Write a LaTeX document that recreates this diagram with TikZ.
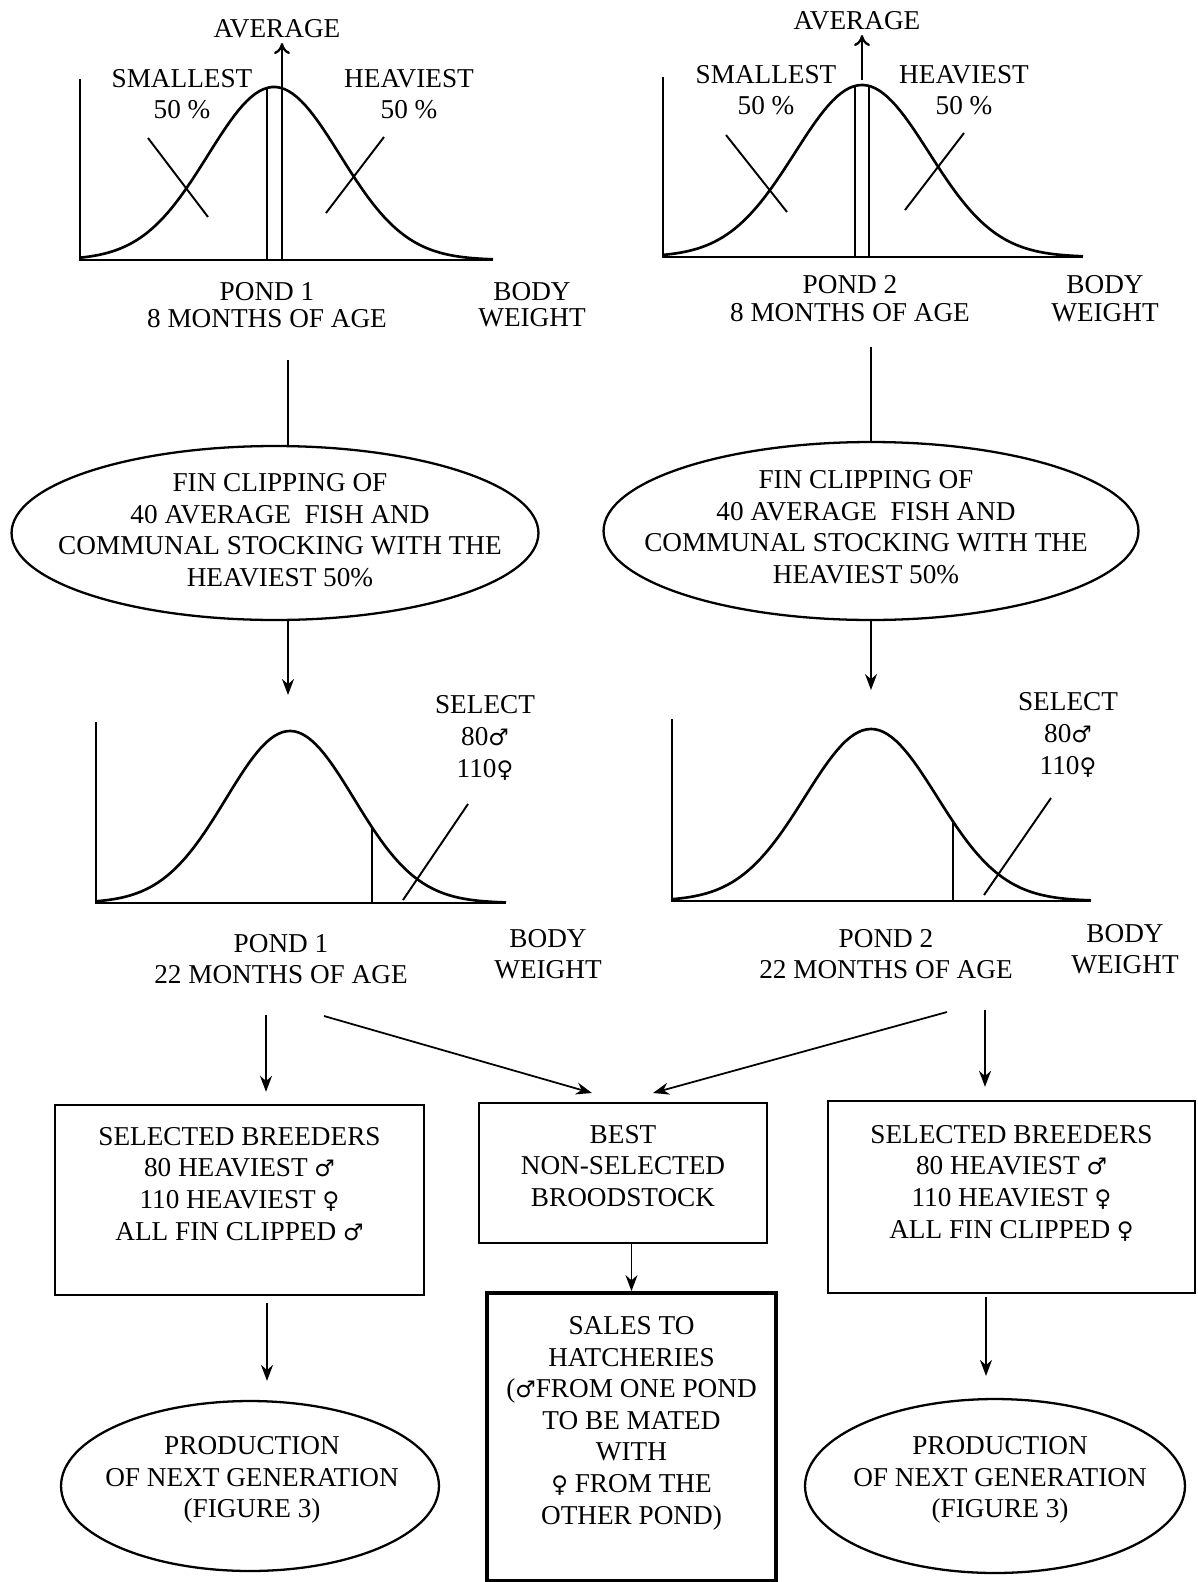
\documentclass[tikz,border=0pt]{standalone}
\usepackage{fontspec}
\setmainfont{Liberation Serif}
\newfontfamily\gsym{DejaVu Sans}
\usetikzlibrary{positioning,shapes.geometric,arrows.meta}
\newcommand\malesym{{\gsym\fontsize{13}{13}\selectfont ♂}}
\newcommand\femsym{{\gsym\fontsize{13}{13}\selectfont ♀}}

\begin{document}
\begin{tikzpicture}[x=0.02cm,y=-0.02cm,
      every node/.style={font=\fontsize{15.5}{18}\selectfont,inner sep=0pt,align=center},
      axis/.style={line width=1.6pt},
      curve/.style={line width=1.5pt},
      cut/.style={line width=1.1pt},
      link/.style={line width=1pt},
      arrow/.style={-{Stealth[length=3.2mm,width=2.4mm]},line width=1pt},
      avgarrow/.style={-{To[length=2.2mm,width=3.2mm]},line width=1.3pt},
      oval/.style={draw,ellipse,line width=1.3pt},
      boxx/.style={draw,rectangle,line width=1.4pt}]
  \useasboundingbox (0,0) rectangle (1197,1582);

  % pond 1, 8 months
  \draw[axis] (80,79) -- (80,260) -- (493,260);
  \draw[curve] plot[domain=80:493,samples=100] (\x,{260-173*exp(-0.5*((\x-274)/66)^2)});
  \draw[cut] (267,260) -- (267,88);
  \draw[avgarrow] (282,260) -- (282,43);
  \draw[cut] (148,138) -- (208,217);
  \draw[cut] (384,137) -- (326,213);
  \node (avg1) at (277,29) {AVERAGE};
  \node (small1) at (182,94) {SMALLEST\\50 \%};
  \node (heavy1) at (409,94) {HEAVIEST\\50 \%};
  \node (pond1a) at (267,305) {POND 1\\[-3pt]8 MONTHS OF AGE};
  \node (bw1) at (532,305) {BODY\\[-3pt]WEIGHT};

  % pond 2, 8 months
  \draw[axis] (663,77) -- (663,257) -- (1083,257);
  \draw[curve] plot[domain=663:1083,samples=100] (\x,{257-172*exp(-0.5*((\x-862)/67)^2)});
  \draw[cut] (855,257) -- (855,86);
  \draw[cut] (869,257) -- (869,86);
  \draw[avgarrow] (862,80) -- (862,35);
  \draw[cut] (726,135) -- (787,212);
  \draw[cut] (964,133) -- (905,210);
  \node (avg2) at (857,21) {AVERAGE};
  \node (small2) at (766,90) {SMALLEST\\50 \%};
  \node (heavy2) at (964,90) {HEAVIEST\\50 \%};
  \node (pond2a) at (850,299) {POND 2\\[-2pt]8 MONTHS OF AGE};
  \node (bw2) at (1105,299) {BODY\\[-2pt]WEIGHT};

  % fin clipping
  \node[oval,minimum width=10.54cm,minimum height=3.48cm] (fin1) at (275,533) {};
  \node (fin1txt) at (280,530) {FIN CLIPPING OF\\40 AVERAGE~ FISH AND\\COMMUNAL STOCKING WITH THE\\HEAVIEST 50\%};
  \node[oval,minimum width=10.7cm,minimum height=3.56cm] (fin2) at (871,531) {};
  \node (fin2txt) at (866,527) {FIN CLIPPING OF\\40 AVERAGE~ FISH AND\\COMMUNAL STOCKING WITH THE\\HEAVIEST 50\%};
  \coordinate (top1) at (288,360);
  \coordinate (top2) at (871,347);
  \draw[link] (top1) -- (top1 |- fin1.north);
  \draw[link] (top2) -- (fin2.north);
  \coordinate (mid1) at (288,695);
  \coordinate (mid2) at (871,690);
  \draw[arrow] (mid1 |- fin1.south) -- (mid1);
  \draw[arrow] (fin2.south) -- (mid2);

  % pond 1, 22 months
  \draw[axis] (96,722) -- (96,903) -- (506,903);
  \draw[curve] plot[domain=96:506,samples=100] (\x,{903-172*exp(-0.5*((\x-290)/64)^2)});
  \draw[cut] (372,903) -- (372,827);
  \draw[cut] (468,804) -- (403,900);
  \node (sel1) at (485,738) {SELECT\\80\malesym\\110\femsym};
  \node (pond1b) at (281,959) {POND 1\\22 MONTHS OF AGE};
  \node (bw3) at (548,954) {BODY\\WEIGHT};

  % pond 2, 22 months
  \draw[axis] (672,719) -- (672,901) -- (1091,901);
  \draw[curve] plot[domain=672:1091,samples=100] (\x,{901-172*exp(-0.5*((\x-871)/66)^2)});
  \draw[cut] (953,901) -- (953,821);
  \draw[cut] (1051,798) -- (984,895);
  \node (sel2) at (1068,735) {SELECT\\80\malesym\\110\femsym};
  \node (pond2b) at (886,954) {POND 2\\22 MONTHS OF AGE};
  \node (bw4) at (1125,949) {BODY\\WEIGHT};

  % breeders and broodstock
  \node[boxx,minimum width=7.38cm,minimum height=3.8cm] (sb1) at (239.5,1200) {};
  \node[below=0.46cm of sb1.north] (sb1txt) {SELECTED BREEDERS\\80 HEAVIEST \malesym\\110 HEAVIEST \femsym\\ALL FIN CLIPPED \malesym};
  \node[boxx,minimum width=5.76cm,minimum height=2.8cm] (best) at (623,1173) {};
  \node[below=0.46cm of best.north] (besttxt) {BEST\\NON-SELECTED\\BROODSTOCK};
  \node[boxx,minimum width=7.34cm,minimum height=3.84cm] (sb2) at (1011.5,1197) {};
  \node[below=0.5cm of sb2.north] (sb2txt) {SELECTED BREEDERS\\80 HEAVIEST \malesym\\110 HEAVIEST \femsym\\ALL FIN CLIPPED \femsym};
  \node[boxx,line width=2.2pt,minimum width=5.78cm,minimum height=5.76cm] (sales) at (631.5,1437) {};
  \node[below=0.5cm of sales.north] (salestxt) {SALES TO\\HATCHERIES\\(\malesym FROM ONE POND\\TO BE MATED\\WITH\\\femsym\ FROM THE\\OTHER POND)};
  \node[oval,minimum width=7.56cm,minimum height=3.4cm] (prod1) at (250,1486) {};
  \node (prod1txt) at (252,1480) {PRODUCTION\\OF NEXT GENERATION\\(FIGURE 3)};
  \node[oval,minimum width=7.6cm,minimum height=3.48cm] (prod2) at (995,1486) {};
  \node (prod2txt) at (1000,1480) {PRODUCTION\\OF NEXT GENERATION\\(FIGURE 3)};

  \coordinate (low1) at (266,1015);
  \coordinate (low2) at (985,1010);
  \coordinate (diag1) at (324,1016);
  \coordinate (diag1e) at (592,1093);
  \coordinate (diag2) at (947,1012);
  \coordinate (diag2e) at (653,1093);
  \draw[arrow,shorten >=0.24cm] (low1) -- (low1 |- sb1.north);
  \draw[arrow,shorten >=0.26cm] (low2) -- (low2 |- sb2.north);
  \draw[arrow] (diag1) -- (diag1e);
  \draw[arrow] (diag2) -- (diag2e);
  \draw[arrow] (best.south -| sales.north) -- (sales.north);
  \coordinate (gen1) at (267,1303);
  \coordinate (gen2) at (986,1297);
  \draw[arrow,shorten >=0.38cm] (gen1) -- (gen1 |- prod1.north);
  \draw[arrow,shorten >=0.44cm] (gen2) -- (gen2 |- prod2.north);
\end{tikzpicture}
\end{document}
